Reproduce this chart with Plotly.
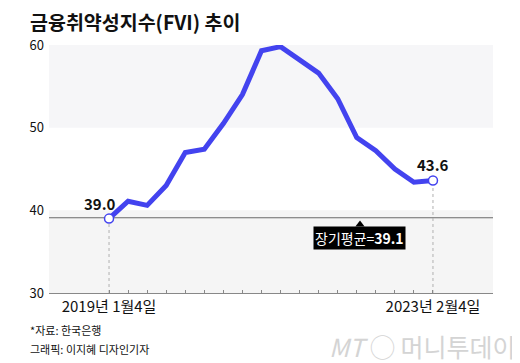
import plotly.graph_objects as go

quarters = ["2019Q1","2019Q2","2019Q3","2019Q4","2020Q1","2020Q2","2020Q3","2020Q4",
            "2021Q1","2021Q2","2021Q3","2021Q4","2022Q1","2022Q2","2022Q3","2022Q4",
            "2023Q1","2023Q2"]
fvi = [39.0, 41.1, 40.6, 43.0, 47.0, 47.4, 50.5, 54.0, 59.3, 59.8, 58.2, 56.6,
       53.5, 48.8, 47.2, 45.0, 43.4, 43.6]
tick_text = ["2019년 1월4일"] + [""] * 16 + ["2023년 2월4일"]
long_avg = 39.1
y_ticks = [30, 40, 50, 60]

FONT = "Liberation Sans Narrow, Arial Narrow, Noto Sans CJK KR, sans-serif"
KFONT = "Noto Sans CJK KR, sans-serif"
n = len(quarters)
xs = list(range(n))

fig = go.Figure()

# shaded bands
fig.add_shape(type="rect", xref="paper", yref="y", x0=0, x1=1, y0=50, y1=60,
              fillcolor="#f6f6f8", line_width=0, layer="below")
fig.add_shape(type="rect", xref="paper", yref="y", x0=0, x1=1, y0=30, y1=40,
              fillcolor="#f5f5f5", line_width=0, layer="below")
# long-term average line
fig.add_shape(type="line", xref="paper", yref="y", x0=0, x1=1, y0=long_avg, y1=long_avg,
              line=dict(color="#6a6a6a", width=1.2), layer="below")
# dotted drop lines at ends
for i in (0, n - 1):
    fig.add_shape(type="line", xref="x", yref="y", x0=xs[i], x1=xs[i], y0=30, y1=fvi[i],
                  line=dict(color="#b0b0b0", width=1, dash="dot"), layer="below")

fig.add_trace(go.Scatter(x=xs, y=fvi, mode="lines",
                         line=dict(color="#4343ef", width=5), hoverinfo="skip"))
fig.add_trace(go.Scatter(x=[xs[0], xs[-1]], y=[fvi[0], fvi[-1]], mode="markers",
                         marker=dict(size=9, color="white", line=dict(color="#4343ef", width=1.5)),
                         hoverinfo="skip"))

# end value labels
fig.add_annotation(x=xs[0] - 0.45, y=fvi[0], text=f"<b>{fvi[0]:.1f}</b>", showarrow=False,
                   yshift=15, font=dict(family=FONT, size=15, color="#111"))
fig.add_annotation(x=xs[-1], y=fvi[-1], text=f"<b>{fvi[-1]:.1f}</b>", showarrow=False,
                   yshift=16, font=dict(family=FONT, size=15, color="#111"))

# average label box with pointer
fig.add_annotation(x=13.17, y=long_avg, text=f"장기평균=<b>{long_avg}</b>", showarrow=False,
                   yshift=-20, bgcolor="#000", borderpad=1,
                   font=dict(family=KFONT, size=14, color="white"))
fig.add_trace(go.Scatter(x=[13.17], y=[38.3], mode="markers",
                         marker=dict(symbol="triangle-up", size=8, color="#000"),
                         hoverinfo="skip"))

# title & notes
fig.add_annotation(xref="paper", yref="paper", x=-0.047, xanchor="left", y=1.0, yanchor="bottom",
                   yshift=7, text="<b>금융취약성지수(FVI) 추이</b>", showarrow=False,
                   font=dict(family=KFONT, size=19.5, color="#111"))
fig.add_annotation(xref="paper", yref="paper", x=-0.047, xanchor="left", y=0, yanchor="top",
                   yshift=-27, text="*자료: 한국은행", showarrow=False,
                   font=dict(family=KFONT, size=11, color="#111"))
fig.add_annotation(xref="paper", yref="paper", x=-0.047, xanchor="left", y=0, yanchor="top",
                   yshift=-46, text="그래픽: 이지혜 디자인기자", showarrow=False,
                   font=dict(family=KFONT, size=11, color="#111"))
fig.add_annotation(xref="paper", yref="paper", x=1.055, xanchor="right", y=0, yanchor="top",
                   yshift=-33, text="<i>MT</i> ◯ 머니투데이", showarrow=False,
                   font=dict(family=KFONT, size=25, color="#d4d4d4"))

# page body has an 8px default margin; figure sized to fit the 520x363 window
fig.update_layout(
    width=512, height=355,
    margin=dict(l=41, r=27, t=37, b=70),
    paper_bgcolor="white", plot_bgcolor="white",
    showlegend=False,
    xaxis=dict(range=[-3.15, n - 1 + 3.15], tickvals=xs, ticktext=tick_text,
               ticks="inside", ticklen=3, tickcolor="#888", tickwidth=1,
               showgrid=False, zeroline=False, showline=True, linecolor="#888", linewidth=1,
               tickfont=dict(family=KFONT, size=15, color="#111"), fixedrange=True),
    yaxis=dict(range=[30, 60], tickvals=y_ticks, showgrid=False, zeroline=False,
               showline=False, ticks="", ticklabelstandoff=4,
               tickfont=dict(family=FONT, size=13, color="#111"), fixedrange=True),
)

fig.write_html("out.html")
